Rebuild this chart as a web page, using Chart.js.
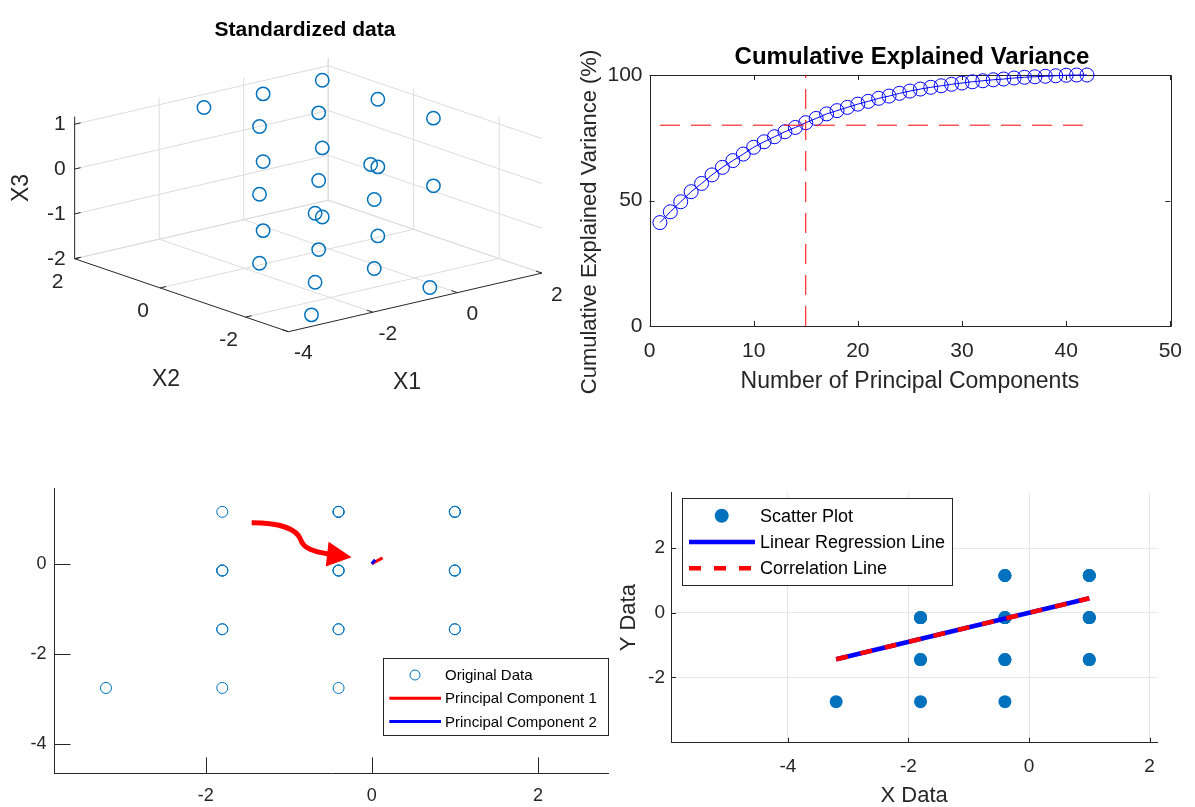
<!DOCTYPE html>
<html>
<head>
<meta charset="utf-8">
<title>PCA figure</title>
<script src="https://cdn.jsdelivr.net/npm/chart.js@4.4.1/dist/chart.umd.min.js"></script>
<style>
  html, body { margin: 0; padding: 0; background: #fff; }
  body { width: 1195px; height: 807px; position: relative; overflow: hidden; }
  .panel { position: absolute; }
</style>
</head>
<body>
<div class="panel" style="left:0;top:0;width:575px;height:410px"><canvas id="std3d"></canvas></div>
<div class="panel" style="left:573px;top:30px;width:622px;height:370px"><canvas id="cumvar"></canvas></div>
<div class="panel" style="left:0;top:470px;width:615px;height:337px"><canvas id="pca"></canvas></div>
<div class="panel" style="left:610px;top:470px;width:585px;height:337px"><canvas id="regr"></canvas></div>
<script>
const FONT = '"Liberation Sans", Arial, Helvetica, sans-serif';
const INK = '#262626';
const MBLUE = '#0072BD';

// standardized data, 25 samples of X1, X2, X3
const X1 = [-1.8, -1.8, -1.8, -1.8, -0.4, -0.4, -0.4, -3.2, -1.8, -1.8, -0.4, -0.4, -0.4,
            1.0, 1.0, 1.0, -1.8, -0.4, -0.4, 1.0, 1.0, 1.0, -0.4, 1.0, 1.0];
const X2 = [1.15, -0.15, -0.15, -0.15, 1.15, 1.15, 1.15, -2.75, -1.45, -1.45, -0.15, -0.15, -0.15,
            1.15, 1.15, 1.15, -2.75, -1.45, -1.45, -0.15, -0.15, -0.15, -2.75, -1.45, -1.45];
const X3 = [1.17, 1.17, -0.34, -1.88, 1.17, -0.34, -1.88, -1.88, -0.34, -1.88, 1.17, -0.34, -1.88,
            1.17, -0.34, -1.88, 1.17, -0.34, -1.88, 1.17, -0.34, -1.88, -1.88, 1.17, -0.34];
const x1Ticks = [-4, -2, 0, 2];
const x2Ticks = [-2, 0, 2];
const x3Ticks = [-2, -1, 0, 1];
const x1Lim = [-4, 2];
const x2Lim = [-3, 2];
const x3Lim = [-2, 1.17];

// cumulative explained variance (%)
const cumVar = [41.2, 45.5, 49.5, 53.5, 56.8, 60.2, 63.2, 65.9, 68.5, 71.2,
                73.4, 75.4, 77.4, 79.1, 81.0, 82.7, 84.5, 85.8, 87.1, 88.4,
                89.5, 90.7, 91.6, 92.7, 93.6, 94.4, 95.1, 95.7, 96.3, 96.8,
                97.3, 97.7, 98.1, 98.4, 98.8, 99.1, 99.3, 99.5, 99.7, 99.9,
                100, 100];
const varThreshold = 80;
const nChosen = 15;
const compTicks = [0, 10, 20, 30, 40, 50];
const pctTicks = [0, 50, 100];

// principal component segments in the X1/X2 plane
const pc1X = [0, 0.13], pc1Y = [0, 0.13];
const pc2X = [0, 0.04], pc2Y = [0, 0.09];
const pcaXTicks = [-2, 0, 2];
const pcaYTicks = [-4, -2, 0];
// red annotation arrow (bezier points, then head), data units
const arrowX = [-1.446, -1.12, -0.904, -0.856, -0.821, -0.701, -0.522];
const arrowY = [0.908, 0.908, 0.776, 0.534, 0.336, 0.27, 0.215];
const headX = [-0.52, -0.243, -0.554];
const headY = [0.49, 0.145, -0.059];

// regression / correlation line end points
const lineX = [-3.2, 1.0];
const regY = [-1.44, 0.445];
const corrY = [-1.44, 0.445];
const regXTicks = [-4, -2, 0, 2];
const regYTicks = [-2, 0, 2];

Chart.defaults.font.family = FONT;
Chart.defaults.color = INK;
Chart.defaults.animation = false;
Chart.defaults.plugins.legend.display = false;
Chart.defaults.plugins.tooltip.enabled = false;

function pts(xs, ys) {
    return xs.map((v, i) => ({ x: v, y: ys[i] }));
}

function axis(min, max, ticks, fit, size, pad, extra) {
    return Object.assign({
        type: "linear",
        min: min,
        max: max,
        afterBuildTicks: (s) => { s.ticks = ticks.map((v) => ({ value: v })); },
        afterFit: (s) => { if (s.isHorizontal()) s.height = fit; else s.width = fit; },
        grid: { display: false, drawTicks: false },
        border: { display: false },
        ticks: { font: { size: size }, color: INK, padding: pad, maxRotation: 0, autoSkip: false, callback: (v) => String(v) },
    }, extra || {});
}

// inward tick marks, optionally with a full box
function tickMarks(len, box) {
    return {
        id: "tickMarks",
        beforeDatasetsDraw(chart) {
            const { ctx, chartArea: a, scales: { x, y } } = chart;
            ctx.save();
            ctx.strokeStyle = INK;
            ctx.lineWidth = 1;
            ctx.beginPath();
            x.ticks.forEach((t) => {
                const p = Math.round(x.getPixelForValue(t.value)) + 0.5;
                ctx.moveTo(p, a.bottom); ctx.lineTo(p, a.bottom - len);
                if (box) { ctx.moveTo(p, a.top); ctx.lineTo(p, a.top + len); }
            });
            y.ticks.forEach((t) => {
                const p = Math.round(y.getPixelForValue(t.value)) + 0.5;
                ctx.moveTo(a.left, p); ctx.lineTo(a.left + len, p);
                if (box) { ctx.moveTo(a.right, p); ctx.lineTo(a.right - len, p); }
            });
            if (box) {
                ctx.rect(Math.round(a.left) + 0.5, Math.round(a.top) + 0.5,
                    Math.round(a.right - a.left), Math.round(a.bottom - a.top));
            }
            ctx.stroke();
            ctx.restore();
        },
    };
}

function notes(items) {
    return {
        id: "notes",
        afterDraw(chart) {
            const ctx = chart.ctx;
            items.forEach((t) => {
                ctx.save();
                ctx.font = t.font;
                ctx.fillStyle = t.color || INK;
                ctx.textAlign = "center";
                ctx.textBaseline = "middle";
                ctx.translate(t.x, t.y);
                if (t.rot) ctx.rotate(t.rot);
                ctx.fillText(t.text, 0, 0);
                ctx.restore();
            });
        },
    };
}

function legendBox(b, rows, size) {
    return {
        id: "legendBox",
        afterDraw(chart) {
            const ctx = chart.ctx;
            ctx.save();
            ctx.fillStyle = "#fff";
            ctx.fillRect(b.x, b.y, b.w, b.h);
            ctx.strokeStyle = INK;
            ctx.lineWidth = 1;
            ctx.strokeRect(Math.round(b.x) + 0.5, Math.round(b.y) + 0.5, Math.round(b.w), Math.round(b.h));
            ctx.font = size + "px " + FONT;
            ctx.textBaseline = "middle";
            ctx.textAlign = "left";
            rows.forEach((r, i) => {
                const y = b.y + b.row0 + i * b.dy;
                ctx.save();
                if (r.kind === "ring" || r.kind === "dot") {
                    ctx.beginPath();
                    ctx.arc(b.mx, y, r.r, 0, Math.PI * 2);
                    if (r.kind === "dot") { ctx.fillStyle = r.color; ctx.fill(); }
                    else { ctx.strokeStyle = r.color; ctx.lineWidth = 1; ctx.stroke(); }
                } else {
                    ctx.strokeStyle = r.color;
                    ctx.lineWidth = r.width;
                    ctx.setLineDash(r.dash || []);
                    ctx.beginPath();
                    ctx.moveTo(b.l0, y);
                    ctx.lineTo(b.l1, y);
                    ctx.stroke();
                }
                ctx.restore();
                ctx.fillStyle = "#000";
                ctx.fillText(r.label, b.tx, y + 1);
            });
            ctx.restore();
        },
    };
}

/* ---------- 3-D scatter of the standardized data ---------- */
// screen offset of one unit along X1, X2, X3 (orthographic view)
const view = { origin: [330.4, 157.3], e1: [43.5, -10.17], e2: [-44, -15.2], e3: [0, -46.7] };
function proj(a, b, c) {
    return {
        x: view.origin[0] + view.e1[0] * a + view.e2[0] * b + view.e3[0] * c,
        y: view.origin[1] + view.e1[1] * a + view.e2[1] * b + view.e3[1] * c,
    };
}
function segs(list) {
    const out = [];
    list.forEach(([p, q]) => out.push(proj(...p), proj(...q), { x: null, y: null }));
    return out;
}

const gridLines = [];
x1Ticks.filter((v) => v > x1Lim[0]).forEach((v) => {
    gridLines.push([[v, x2Lim[0], x3Lim[0]], [v, x2Lim[1], x3Lim[0]]]);
    gridLines.push([[v, x2Lim[1], x3Lim[0]], [v, x2Lim[1], x3Lim[1]]]);
});
x2Ticks.forEach((v) => {
    gridLines.push([[x1Lim[0], v, x3Lim[0]], [x1Lim[1], v, x3Lim[0]]]);
    gridLines.push([[x1Lim[1], v, x3Lim[0]], [x1Lim[1], v, x3Lim[1]]]);
});
x3Ticks.forEach((v) => {
    gridLines.push([[x1Lim[0], x2Lim[1], v], [x1Lim[1], x2Lim[1], v]]);
    gridLines.push([[x1Lim[1], x2Lim[1], v], [x1Lim[1], x2Lim[0], v]]);
});

const tk = 0.14;
const axisLines = [
    [[x1Lim[0], x2Lim[1], x3Lim[0]], [x1Lim[0], x2Lim[1], x3Lim[1]]],
    [[x1Lim[0], x2Lim[1], x3Lim[0]], [x1Lim[0], x2Lim[0], x3Lim[0]]],
    [[x1Lim[0], x2Lim[0], x3Lim[0]], [x1Lim[1], x2Lim[0], x3Lim[0]]],
];
x3Ticks.forEach((v) => axisLines.push([[x1Lim[0], x2Lim[1], v], [x1Lim[0] + tk, x2Lim[1], v]]));
x2Ticks.forEach((v) => axisLines.push([[x1Lim[0], v, x3Lim[0]], [x1Lim[0] + tk, v, x3Lim[0]]]));
x1Ticks.forEach((v) => axisLines.push([[v, x2Lim[0], x3Lim[0]], [v, x2Lim[0] + tk, x3Lim[0]]]));

const labels3d = {
    id: "labels3d",
    afterDraw(chart) {
        const { ctx, scales: { x, y } } = chart;
        const at = (a, b, c) => {
            const p = proj(a, b, c);
            return [x.getPixelForValue(p.x), y.getPixelForValue(p.y)];
        };
        ctx.save();
        ctx.fillStyle = INK;
        ctx.font = "21px " + FONT;
        ctx.textBaseline = "middle";
        ctx.textAlign = "right";
        x3Ticks.forEach((v) => {
            const [px, py] = at(x1Lim[0], x2Lim[1], v);
            ctx.fillText(String(v), px - 9, py);
        });
        ctx.textAlign = "center";
        x2Ticks.forEach((v) => {
            const [px, py] = at(x1Lim[0], v, x3Lim[0]);
            ctx.fillText(String(v), px - 17, py + 23);
        });
        x1Ticks.forEach((v) => {
            const [px, py] = at(v, x2Lim[0], x3Lim[0]);
            ctx.fillText(String(v), px + 15, py + 22);
        });
        ctx.font = "23px " + FONT;
        ctx.fillText("X1", 407, 383);
        ctx.fillText("X2", 166, 380);
        ctx.translate(22, 188);
        ctx.rotate(-Math.PI / 2);
        ctx.fillText("X3", 0, 0);
        ctx.restore();
        ctx.save();
        ctx.fillStyle = "#000";
        ctx.font = "bold 21px " + FONT;
        ctx.textAlign = "center";
        ctx.textBaseline = "middle";
        ctx.fillText("Standardized data", 305, 30);
        ctx.restore();
    },
};

new Chart(document.getElementById("std3d"), {
    type: "scatter",
    data: {
        datasets: [
            {
                data: X1.map((v, i) => proj(v, X2[i], X3[i])),
                pointRadius: 6.7,
                pointBorderWidth: 1.5,
                pointBorderColor: MBLUE,
                pointBackgroundColor: "rgba(0,0,0,0)",
                order: 0,
            },
            {
                data: segs(axisLines),
                showLine: true,
                borderColor: INK,
                borderWidth: 1,
                pointRadius: 0,
                order: 1,
            },
            {
                data: segs(gridLines),
                showLine: true,
                borderColor: "#dcdcdc",
                borderWidth: 1,
                pointRadius: 0,
                order: 2,
            },
        ],
    },
    options: {
        responsive: true,
        maintainAspectRatio: false,
        layout: { padding: 0 },
        scales: {
            x: { type: "linear", min: 0, max: 575, display: false },
            y: { type: "linear", min: 0, max: 410, reverse: true, display: false },
        },
    },
    plugins: [labels3d],
});

/* ---------- cumulative explained variance ---------- */
new Chart(document.getElementById("cumvar"), {
    type: "scatter",
    data: {
        datasets: [
            {
                data: cumVar.map((v, i) => ({ x: i + 1, y: v })),
                showLine: true,
                borderColor: "#0000FF",
                borderWidth: 1,
                pointRadius: 7,
                pointBorderWidth: 1,
                pointBorderColor: "#0000FF",
                pointBackgroundColor: "rgba(0,0,0,0)",
                clip: false,
                order: 2,
            },
            {
                data: [{ x: 1, y: varThreshold }, { x: cumVar.length, y: varThreshold }],
                showLine: true,
                borderColor: "#FF0000",
                borderWidth: 1,
                borderDash: [20, 11],
                pointRadius: 0,
                order: 1,
            },
            {
                data: [{ x: nChosen, y: pctTicks[0] }, { x: nChosen, y: pctTicks[pctTicks.length - 1] }],
                showLine: true,
                borderColor: "#FF0000",
                borderWidth: 1,
                borderDash: [20, 11],
                pointRadius: 0,
                order: 1,
            },
        ],
    },
    options: {
        responsive: true,
        maintainAspectRatio: false,
        layout: { padding: { left: 0, right: 16, top: 45, bottom: 0 } },
        scales: {
            x: axis(0, 50, compTicks, 74, 21, 13, {
                title: {
                    display: true,
                    text: "Number of Principal Components",
                    color: INK,
                    font: { size: 23, lineHeight: 1 },
                    padding: { top: 0, bottom: 7 },
                },
            }),
            y: axis(0, 100, pctTicks, 76.5, 21, 7),
        },
    },
    plugins: [
        tickMarks(5, true),
        notes([
            { text: "Cumulative Explained Variance", x: 339, y: 27, font: "bold 24px " + FONT, color: "#000" },
            { text: "Cumulative Explained Variance (%)", x: 17, y: 192, rot: -Math.PI / 2, font: "22px " + FONT },
        ]),
    ],
});

/* ---------- original data with principal components ---------- */
const arrowPlugin = {
    id: "arrow",
    afterDatasetsDraw(chart) {
        const { ctx, scales: { x, y } } = chart;
        const P = (i) => [x.getPixelForValue(arrowX[i]), y.getPixelForValue(arrowY[i])];
        ctx.save();
        ctx.strokeStyle = "#FF0000";
        ctx.lineWidth = 5;
        ctx.lineJoin = "round";
        ctx.beginPath();
        ctx.moveTo(...P(0));
        ctx.bezierCurveTo(...P(1), ...P(2), ...P(3));
        ctx.bezierCurveTo(...P(4), ...P(5), ...P(6));
        ctx.stroke();
        ctx.fillStyle = "#FF0000";
        ctx.beginPath();
        headX.forEach((v, i) => {
            const px = x.getPixelForValue(v), py = y.getPixelForValue(headY[i]);
            if (i) ctx.lineTo(px, py); else ctx.moveTo(px, py);
        });
        ctx.closePath();
        ctx.fill();
        ctx.restore();
    },
};

new Chart(document.getElementById("pca"), {
    type: "scatter",
    data: {
        datasets: [
            {
                data: pts(X1, X2),
                pointRadius: 5.5,
                pointBorderWidth: 1,
                pointBorderColor: MBLUE,
                pointBackgroundColor: "rgba(0,0,0,0)",
                order: 2,
            },
            {
                data: pts(pc1X, pc1Y),
                showLine: true,
                borderColor: "#FF0000",
                borderWidth: 3,
                pointRadius: 0,
                order: 1,
            },
            {
                data: pts(pc2X, pc2Y),
                showLine: true,
                borderColor: "#0000FF",
                borderWidth: 3,
                pointRadius: 0,
                order: 0,
            },
        ],
    },
    options: {
        responsive: true,
        maintainAspectRatio: false,
        layout: { padding: { left: 0, right: 3, top: 16.7, bottom: 0 } },
        scales: {
            x: axis(-3.82, 2.85, pcaXTicks, 33.7, 18, 12, { border: { display: true, color: INK, width: 1 } }),
            y: axis(-4.64, 1.66, pcaYTicks, 54.5, 18, 8, { border: { display: true, color: INK, width: 1 } }),
        },
    },
    plugins: [
        tickMarks(16, false),
        arrowPlugin,
        legendBox(
            { x: 383.3, y: 188.3, w: 225, h: 76.7, row0: 16.7, dy: 23.3, mx: 415, l0: 389.3, l1: 441, tx: 445 },
            [
                { label: "Original Data", kind: "ring", color: MBLUE, r: 5 },
                { label: "Principal Component 1", kind: "line", color: "#FF0000", width: 3 },
                { label: "Principal Component 2", kind: "line", color: "#0000FF", width: 3 },
            ],
            15
        ),
    ],
});

/* ---------- scatter with regression and correlation lines ---------- */
new Chart(document.getElementById("regr"), {
    type: "scatter",
    data: {
        datasets: [
            {
                data: pts(X1, X2),
                pointRadius: 6.5,
                pointBorderWidth: 0,
                pointBackgroundColor: MBLUE,
                pointBorderColor: MBLUE,
                order: 2,
            },
            {
                data: pts(lineX, regY),
                showLine: true,
                borderColor: "#0000FF",
                borderWidth: 4.5,
                pointRadius: 0,
                order: 1,
            },
            {
                data: pts(lineX, corrY),
                showLine: true,
                borderColor: "#FF0000",
                borderWidth: 4.5,
                borderDash: [12, 13],
                pointRadius: 0,
                order: 0,
            },
        ],
    },
    options: {
        responsive: true,
        maintainAspectRatio: false,
        layout: { padding: { left: 0, right: 37.6, top: 22.7, bottom: 0 } },
        scales: {
            x: axis(-5.94, 2.13, regXTicks, 64.3, 19, 13, {
                grid: { display: true, drawTicks: false, color: "#e6e6e6" },
                border: { display: true, color: INK, width: 1 },
                title: { display: true, text: "X Data", color: INK, font: { size: 22, lineHeight: 1 }, padding: { top: 0, bottom: 0 } },
            }),
            y: axis(-4.02, 3.71, regYTicks, 61, 19, 6, {
                grid: { display: true, drawTicks: false, color: "#e6e6e6" },
                border: { display: true, color: INK, width: 1 },
                title: { display: true, text: "Y Data", color: INK, font: { size: 22, lineHeight: 1 }, padding: { top: 8, bottom: 0 } },
            }),
        },
    },
    plugins: [
        tickMarks(5, false),
        legendBox(
            { x: 71.7, y: 28.3, w: 270, h: 86.7, row0: 17.4, dy: 26.3, mx: 111.7, l0: 79, l1: 145, tx: 150 },
            [
                { label: "Scatter Plot", kind: "dot", color: MBLUE, r: 7 },
                { label: "Linear Regression Line", kind: "line", color: "#0000FF", width: 4.5 },
                { label: "Correlation Line", kind: "line", color: "#FF0000", width: 4.5, dash: [12, 13] },
            ],
            18
        ),
    ],
});
</script>
</body>
</html>
